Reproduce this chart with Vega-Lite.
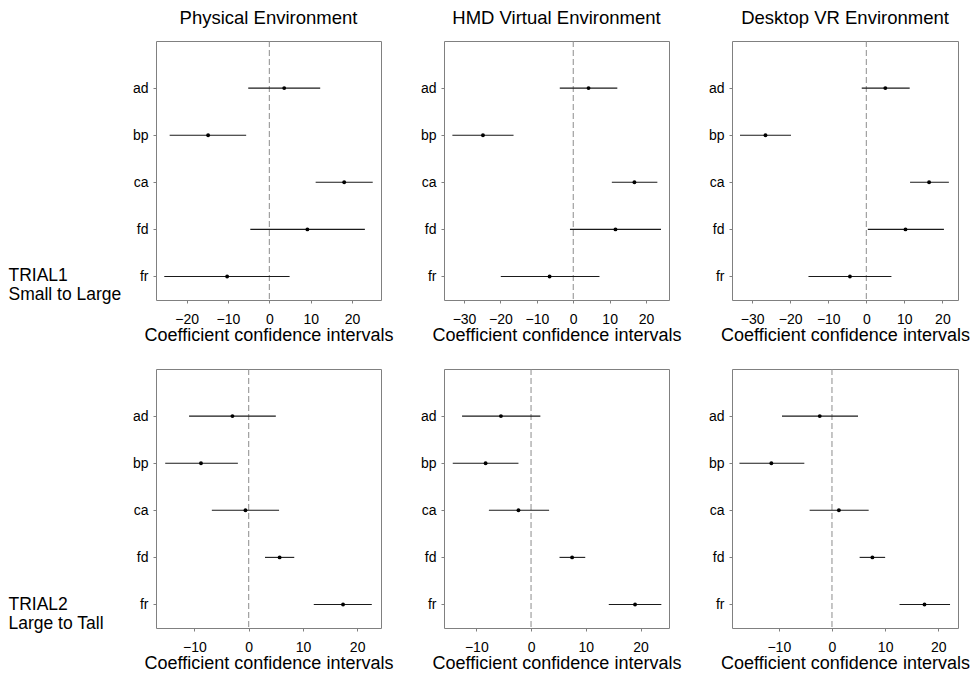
{
  "$schema": "https://vega.github.io/schema/vega-lite/v6.json",
  "padding": {"left": 7, "top": 8, "right": 5, "bottom": 5},
  "background": "white",
  "config": {
    "font": "Liberation Sans",
    "view": {"stroke": "#808080", "strokeWidth": 1},
    "axis": {"labelFont": "Liberation Sans", "titleFont": "Liberation Sans", "labelColor": "#000", "titleColor": "#000", "tickColor": "#808080", "domain": false, "grid": false, "tickSize": 3, "labelFontSize": 14, "titleFontWeight": "normal"},
    "axisX": {"labelPadding": 9, "titleFontSize": 18, "titleY": 40, "titleBaseline": "alphabetic", "labelFlush": false},
    "axisY": {"labelPadding": 5, "titleFontSize": 17.5, "titleAngle": 0, "titleAlign": "left", "titleBaseline": "alphabetic", "titleLineHeight": 19},
    "title": {"font": "Liberation Sans", "fontSize": 18.5, "fontWeight": "normal", "color": "#000", "frame": "group", "offset": 13}
  },
  "data": {"values": [
    {"trial": "TRIAL1", "env": "Physical", "var": "ad", "lo": -5.1, "est": 3.6, "hi": 12.3},
    {"trial": "TRIAL1", "env": "Physical", "var": "bp", "lo": -24.1, "est": -14.8, "hi": -5.6},
    {"trial": "TRIAL1", "env": "Physical", "var": "ca", "lo": 11.2, "est": 18.1, "hi": 25.0},
    {"trial": "TRIAL1", "env": "Physical", "var": "fd", "lo": -4.6, "est": 9.2, "hi": 23.1},
    {"trial": "TRIAL1", "env": "Physical", "var": "fr", "lo": -25.4, "est": -10.2, "hi": 4.9},
    {"trial": "TRIAL1", "env": "HMD", "var": "ad", "lo": -3.7, "est": 4.2, "hi": 12.1},
    {"trial": "TRIAL1", "env": "HMD", "var": "bp", "lo": -33.2, "est": -24.8, "hi": -16.4},
    {"trial": "TRIAL1", "env": "HMD", "var": "ca", "lo": 10.6, "est": 16.8, "hi": 23.1},
    {"trial": "TRIAL1", "env": "HMD", "var": "fd", "lo": -0.9, "est": 11.6, "hi": 24.1},
    {"trial": "TRIAL1", "env": "HMD", "var": "fr", "lo": -19.9, "est": -6.5, "hi": 7.2},
    {"trial": "TRIAL1", "env": "Desktop", "var": "ad", "lo": -1.2, "est": 5.0, "hi": 11.4},
    {"trial": "TRIAL1", "env": "Desktop", "var": "bp", "lo": -33.2, "est": -26.5, "hi": -19.8},
    {"trial": "TRIAL1", "env": "Desktop", "var": "ca", "lo": 11.5, "est": 16.5, "hi": 21.7},
    {"trial": "TRIAL1", "env": "Desktop", "var": "fd", "lo": 0.4, "est": 10.3, "hi": 20.4},
    {"trial": "TRIAL1", "env": "Desktop", "var": "fr", "lo": -15.2, "est": -4.3, "hi": 6.6},
    {"trial": "TRIAL2", "env": "Physical", "var": "ad", "lo": -11.0, "est": -3.0, "hi": 5.0},
    {"trial": "TRIAL2", "env": "Physical", "var": "bp", "lo": -15.4, "est": -8.8, "hi": -2.0},
    {"trial": "TRIAL2", "env": "Physical", "var": "ca", "lo": -6.8, "est": -0.6, "hi": 5.6},
    {"trial": "TRIAL2", "env": "Physical", "var": "fd", "lo": 3.0, "est": 5.7, "hi": 8.4},
    {"trial": "TRIAL2", "env": "Physical", "var": "fr", "lo": 12.0, "est": 17.4, "hi": 22.7},
    {"trial": "TRIAL2", "env": "HMD", "var": "ad", "lo": -12.6, "est": -5.5, "hi": 1.7},
    {"trial": "TRIAL2", "env": "HMD", "var": "bp", "lo": -14.3, "est": -8.3, "hi": -2.3},
    {"trial": "TRIAL2", "env": "HMD", "var": "ca", "lo": -7.7, "est": -2.3, "hi": 3.3},
    {"trial": "TRIAL2", "env": "HMD", "var": "fd", "lo": 5.2, "est": 7.5, "hi": 9.9},
    {"trial": "TRIAL2", "env": "HMD", "var": "fr", "lo": 14.2, "est": 19.0, "hi": 23.8},
    {"trial": "TRIAL2", "env": "Desktop", "var": "ad", "lo": -9.4, "est": -2.3, "hi": 4.9},
    {"trial": "TRIAL2", "env": "Desktop", "var": "bp", "lo": -17.4, "est": -11.4, "hi": -5.2},
    {"trial": "TRIAL2", "env": "Desktop", "var": "ca", "lo": -4.2, "est": 1.3, "hi": 6.9},
    {"trial": "TRIAL2", "env": "Desktop", "var": "fd", "lo": 5.2, "est": 7.6, "hi": 10.0},
    {"trial": "TRIAL2", "env": "Desktop", "var": "fr", "lo": 12.7, "est": 17.4, "hi": 22.2}
  ]},
  "columns": 3,
  "spacing": {"row": 69, "column": 63},
  "bounds": "flush",
  "resolve": {"scale": {"x": "independent", "y": "independent"}, "axis": {"x": "independent", "y": "independent"}},
  "concat": [
    {
      "width": 225, "height": 259,
      "title": "Physical Environment",
      "transform": [{"filter": "datum.trial === 'TRIAL1' && datum.env === 'Physical'"}],
      "encoding": {"y": {"field": "var", "type": "nominal", "scale": {"type": "point", "domain": ["ad", "bp", "ca", "fd", "fr"], "padding": 0.75, "align": 0.667}, "axis": {"title": ["TRIAL1", "Small to Large"], "titleX": -148, "titleY": 239}}},
      "layer": [
        {"transform": [{"aggregate": [{"op": "count", "as": "n"}]}], "mark": {"type": "rule", "color": "#8c8c8c", "strokeDash": [6, 3], "strokeWidth": 1}, "encoding": {"x": {"datum": 0, "type": "quantitative"}, "y": null}},
        {"mark": {"type": "rule", "color": "#1a1a1a", "strokeWidth": 1.1}, "encoding": {"x": {"field": "lo", "type": "quantitative", "scale": {"domain": [-27.4, 27.0], "nice": false, "zero": false}, "axis": {"values": [-20, -10, 0, 10, 20], "title": "Coefficient confidence intervals"}}, "x2": {"field": "hi"}}},
        {"mark": {"type": "point", "filled": true, "color": "#000", "size": 15, "opacity": 1}, "encoding": {"x": {"field": "est", "type": "quantitative"}}}
      ]
    },
    {
      "width": 225, "height": 259,
      "title": "HMD Virtual Environment",
      "transform": [{"filter": "datum.trial === 'TRIAL1' && datum.env === 'HMD'"}],
      "encoding": {"y": {"field": "var", "type": "nominal", "scale": {"type": "point", "domain": ["ad", "bp", "ca", "fd", "fr"], "padding": 0.75, "align": 0.667}, "axis": {"title": null}}},
      "layer": [
        {"transform": [{"aggregate": [{"op": "count", "as": "n"}]}], "mark": {"type": "rule", "color": "#8c8c8c", "strokeDash": [6, 3], "strokeWidth": 1}, "encoding": {"x": {"datum": 0, "type": "quantitative"}, "y": null}},
        {"mark": {"type": "rule", "color": "#1a1a1a", "strokeWidth": 1.1}, "encoding": {"x": {"field": "lo", "type": "quantitative", "scale": {"domain": [-35.5, 26.3], "nice": false, "zero": false}, "axis": {"values": [-30, -20, -10, 0, 10, 20], "title": "Coefficient confidence intervals"}}, "x2": {"field": "hi"}}},
        {"mark": {"type": "point", "filled": true, "color": "#000", "size": 15, "opacity": 1}, "encoding": {"x": {"field": "est", "type": "quantitative"}}}
      ]
    },
    {
      "width": 226, "height": 259,
      "title": "Desktop VR Environment",
      "transform": [{"filter": "datum.trial === 'TRIAL1' && datum.env === 'Desktop'"}],
      "encoding": {"y": {"field": "var", "type": "nominal", "scale": {"type": "point", "domain": ["ad", "bp", "ca", "fd", "fr"], "padding": 0.75, "align": 0.667}, "axis": {"title": null}}},
      "layer": [
        {"transform": [{"aggregate": [{"op": "count", "as": "n"}]}], "mark": {"type": "rule", "color": "#8c8c8c", "strokeDash": [6, 3], "strokeWidth": 1}, "encoding": {"x": {"datum": 0, "type": "quantitative"}, "y": null}},
        {"mark": {"type": "rule", "color": "#1a1a1a", "strokeWidth": 1.1}, "encoding": {"x": {"field": "lo", "type": "quantitative", "scale": {"domain": [-35.3, 24.1], "nice": false, "zero": false}, "axis": {"values": [-30, -20, -10, 0, 10, 20], "title": "Coefficient confidence intervals"}}, "x2": {"field": "hi"}}},
        {"mark": {"type": "point", "filled": true, "color": "#000", "size": 15, "opacity": 1}, "encoding": {"x": {"field": "est", "type": "quantitative"}}}
      ]
    },
    {
      "width": 225, "height": 259,
      "transform": [{"filter": "datum.trial === 'TRIAL2' && datum.env === 'Physical'"}],
      "encoding": {"y": {"field": "var", "type": "nominal", "scale": {"type": "point", "domain": ["ad", "bp", "ca", "fd", "fr"], "padding": 0.75, "align": 0.667}, "axis": {"title": ["TRIAL2", "Large to Tall"], "titleX": -148, "titleY": 240}}},
      "layer": [
        {"transform": [{"aggregate": [{"op": "count", "as": "n"}]}], "mark": {"type": "rule", "color": "#8c8c8c", "strokeDash": [6, 3], "strokeWidth": 1}, "encoding": {"x": {"datum": 0, "type": "quantitative"}, "y": null}},
        {"mark": {"type": "rule", "color": "#1a1a1a", "strokeWidth": 1.1}, "encoding": {"x": {"field": "lo", "type": "quantitative", "scale": {"domain": [-17.1, 24.4], "nice": false, "zero": false}, "axis": {"values": [-10, 0, 10, 20], "title": "Coefficient confidence intervals"}}, "x2": {"field": "hi"}}},
        {"mark": {"type": "point", "filled": true, "color": "#000", "size": 15, "opacity": 1}, "encoding": {"x": {"field": "est", "type": "quantitative"}}}
      ]
    },
    {
      "width": 225, "height": 259,
      "transform": [{"filter": "datum.trial === 'TRIAL2' && datum.env === 'HMD'"}],
      "encoding": {"y": {"field": "var", "type": "nominal", "scale": {"type": "point", "domain": ["ad", "bp", "ca", "fd", "fr"], "padding": 0.75, "align": 0.667}, "axis": {"title": null}}},
      "layer": [
        {"transform": [{"aggregate": [{"op": "count", "as": "n"}]}], "mark": {"type": "rule", "color": "#8c8c8c", "strokeDash": [6, 3], "strokeWidth": 1}, "encoding": {"x": {"datum": 0, "type": "quantitative"}, "y": null}},
        {"mark": {"type": "rule", "color": "#1a1a1a", "strokeWidth": 1.1}, "encoding": {"x": {"field": "lo", "type": "quantitative", "scale": {"domain": [-15.9, 25.2], "nice": false, "zero": false}, "axis": {"values": [-10, 0, 10, 20], "title": "Coefficient confidence intervals"}}, "x2": {"field": "hi"}}},
        {"mark": {"type": "point", "filled": true, "color": "#000", "size": 15, "opacity": 1}, "encoding": {"x": {"field": "est", "type": "quantitative"}}}
      ]
    },
    {
      "width": 226, "height": 259,
      "transform": [{"filter": "datum.trial === 'TRIAL2' && datum.env === 'Desktop'"}],
      "encoding": {"y": {"field": "var", "type": "nominal", "scale": {"type": "point", "domain": ["ad", "bp", "ca", "fd", "fr"], "padding": 0.75, "align": 0.667}, "axis": {"title": null}}},
      "layer": [
        {"transform": [{"aggregate": [{"op": "count", "as": "n"}]}], "mark": {"type": "rule", "color": "#8c8c8c", "strokeDash": [6, 3], "strokeWidth": 1}, "encoding": {"x": {"datum": 0, "type": "quantitative"}, "y": null}},
        {"mark": {"type": "rule", "color": "#1a1a1a", "strokeWidth": 1.1}, "encoding": {"x": {"field": "lo", "type": "quantitative", "scale": {"domain": [-18.8, 23.7], "nice": false, "zero": false}, "axis": {"values": [-10, 0, 10, 20], "title": "Coefficient confidence intervals"}}, "x2": {"field": "hi"}}},
        {"mark": {"type": "point", "filled": true, "color": "#000", "size": 15, "opacity": 1}, "encoding": {"x": {"field": "est", "type": "quantitative"}}}
      ]
    }
  ]
}
